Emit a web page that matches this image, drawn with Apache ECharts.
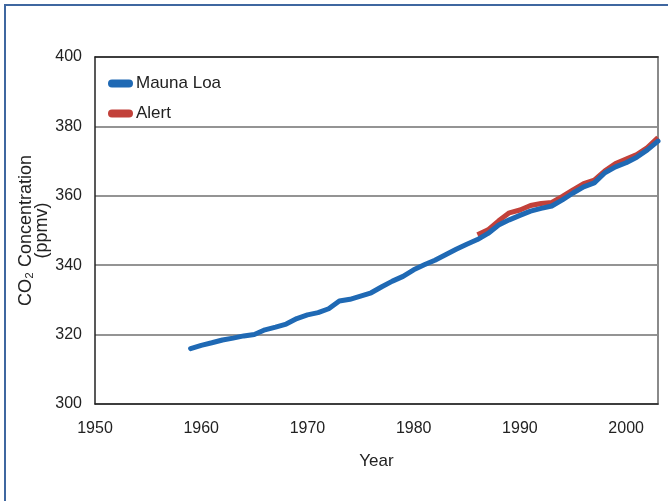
<!DOCTYPE html>
<html>
<head>
<meta charset="utf-8">
<script src="https://cdn.jsdelivr.net/npm/echarts@6/dist/echarts.min.js"></script>
<style>
  html, body { margin: 0; padding: 0; background: #fff; }
  #chart { width: 668px; height: 501px; }
</style>
</head>
<body>
<div id="chart"></div>
<script>
// annual mean CO2 (ppmv)
const maunaLoaYears = [1959, 1960, 1961, 1962, 1963, 1964, 1965, 1966, 1967, 1968,
  1969, 1970, 1971, 1972, 1973, 1974, 1975, 1976, 1977, 1978, 1979, 1980, 1981,
  1982, 1983, 1984, 1985, 1986, 1987, 1988, 1989, 1990, 1991, 1992, 1993, 1994,
  1995, 1996, 1997, 1998, 1999, 2000, 2001, 2002, 2003];
const maunaLoaValues = [315.97, 316.91, 317.64, 318.45, 318.99, 319.62, 320.04,
  321.38, 322.16, 323.04, 324.62, 325.68, 326.32, 327.45, 329.68, 330.18, 331.08,
  332.05, 333.78, 335.41, 336.78, 338.68, 340.10, 341.44, 343.03, 344.58, 346.04,
  347.39, 349.16, 351.56, 353.07, 354.35, 355.57, 356.38, 357.07, 358.82, 360.80,
  362.59, 363.71, 366.65, 368.33, 369.52, 371.13, 373.22, 375.77];
const alertYears = [1986, 1987, 1988, 1989, 1990, 1991, 1992, 1993, 1994, 1995,
  1996, 1997, 1998, 1999, 2000, 2001, 2002, 2003];
const alertValues = [348.8, 350.2, 352.8, 355.1, 355.9, 357.2, 357.8, 358.1, 359.8,
  361.7, 363.5, 364.5, 367.2, 369.3, 370.6, 371.9, 373.9, 376.8];

const font = "'Liberation Sans Narrow', 'Liberation Sans', sans-serif";
const pill = "path://M4,0 H21 A4,4 0 0 1 21,8 H4 A4,4 0 0 1 4,0 Z";

const chart = echarts.init(document.getElementById("chart"));
chart.setOption({
  animation: false,
  textStyle: { fontFamily: font },
  grid: { left: 95, top: 57, right: 10, bottom: 97 },
  graphic: [
    {
      type: "rect",
      shape: { x: 5, y: 5, width: 720, height: 560 },
      style: { fill: null, stroke: "#3f67a0", lineWidth: 2 },
      silent: true
    }
  ],
  legend: {
    orient: "vertical",
    left: 103,
    top: 70,
    itemGap: 13,
    itemWidth: 25,
    itemHeight: 8,
    textStyle: { fontFamily: font, fontSize: 17, color: "#222", padding: [0, 0, 0, -2] },
    data: [
      { name: "Mauna Loa", icon: pill },
      { name: "Alert", icon: pill }
    ]
  },
  xAxis: [
    {
      type: "value",
      min: 1950,
      max: 2003,
      interval: 10,
      name: "Year",
      nameLocation: "middle",
      nameGap: 49,
      nameMoveOverlap: false,
      nameTextStyle: { fontFamily: font, fontSize: 17, color: "#222" },
      axisLine: { show: true, lineStyle: { color: "#222", width: 1.5 } },
      axisTick: { show: false },
      axisLabel: {
        fontFamily: font, fontSize: 16, color: "#222", margin: 17, showMaxLabel: false,
        formatter: (v) => String(v)
      },
      splitLine: { show: false }
    },
    {
      type: "value",
      position: "top",
      min: 1950,
      max: 2003,
      axisLine: { show: true, onZero: false, lineStyle: { color: "#222", width: 1.5 } },
      axisTick: { show: false },
      axisLabel: { show: false },
      splitLine: { show: false }
    }
  ],
  yAxis: [
    {
      type: "value",
      min: 300,
      max: 400,
      interval: 20,
      name: "CO\u2082 Concentration\n(ppmv)",
      nameLocation: "middle",
      nameGap: 45,
      nameMoveOverlap: false,
      nameTextStyle: { fontFamily: font, fontSize: 18, color: "#222", lineHeight: 16 },
      axisLine: { show: true, lineStyle: { color: "#222", width: 1.5 } },
      axisTick: { show: false },
      axisLabel: { fontFamily: font, fontSize: 16, color: "#222", margin: 13, showMaxLabel: true },
      splitLine: { show: true, lineStyle: { color: "#707070", width: 1.5 } }
    },
    {
      type: "value",
      position: "right",
      min: 300,
      max: 400,
      axisLine: { show: true, onZero: false, lineStyle: { color: "#8a8a8a", width: 2 } },
      axisTick: { show: false },
      axisLabel: { show: false },
      splitLine: { show: false }
    }
  ],
  series: [
    {
      name: "Mauna Loa",
      type: "line",
      data: maunaLoaYears.map((y, i) => [y, maunaLoaValues[i]]),
      showSymbol: false,
      lineStyle: { color: "#1f69b4", width: 5, cap: "round", join: "round" },
      itemStyle: { color: "#1f69b4" },
      z: 3
    },
    {
      name: "Alert",
      type: "line",
      data: alertYears.map((y, i) => [y, alertValues[i]]),
      showSymbol: false,
      lineStyle: { color: "#c2413a", width: 5, join: "round" },
      itemStyle: { color: "#c2413a" },
      z: 2
    }
  ]
});
</script>
</body>
</html>
